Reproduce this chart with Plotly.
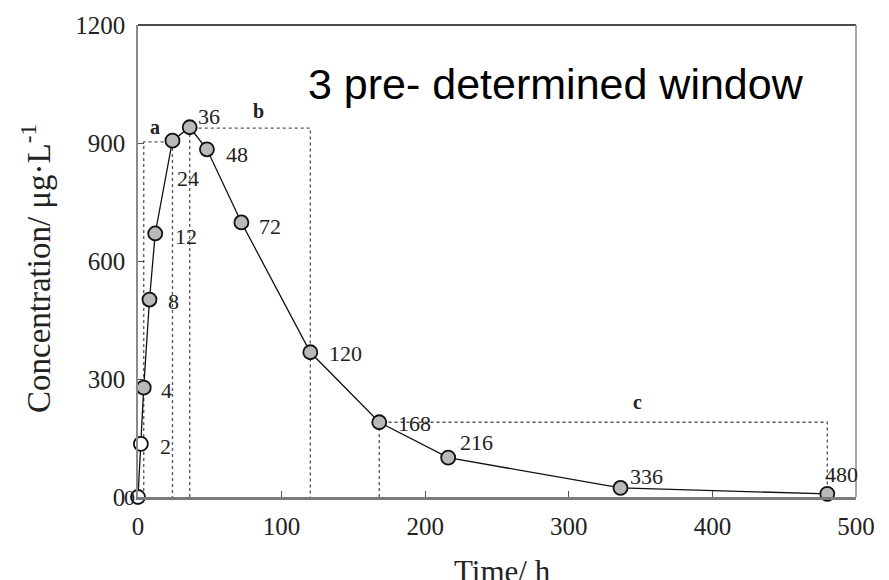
import plotly.graph_objects as go

# ---- data ----
time_h = [0, 2, 4, 8, 12, 24, 36, 48, 72, 120, 168, 216, 336, 480]
conc = [0, 135, 278, 502, 670, 906, 940, 884, 698, 368, 190, 100, 23, 8]
point_labels = ["0", "2", "4", "8", "12", "24", "36", "48", "72", "120", "168", "216", "336", "480"]
open_points = [True, True] + [False] * 12

window_names = ["a", "b", "c"]
window_start = [4, 36, 168]
window_end = [24, 120, 480]
window_top = [903, 938, 190]
window_label_x = [12, 84, 348]
window_label_y = [940, 982, 242]

x_ticks = [0, 100, 200, 300, 400, 500]
y_ticks = [0, 300, 600, 900, 1200]

# label offsets in pixels (style)
label_dx = [-9, 25, 23, 24, 31, 16, 19, 30, 29, 35, 35, 28, 26, 14]
label_dy = [0, -3, -3, -2, -3, -38, 11, -5, -4, -1, -1, 15, 11, 19]

SERIF = "Liberation Serif, Times New Roman, serif"

fig = go.Figure()

# windows (dotted rectangles open at the bottom)
for s, e, top in zip(window_start, window_end, window_top):
    fig.add_trace(go.Scatter(
        x=[s, s, e, e], y=[0, top, top, 0], mode="lines",
        line=dict(color="#555555", width=1.3, dash="dot"),
        hoverinfo="skip", showlegend=False))

# main curve
fig.add_trace(go.Scatter(
    x=time_h, y=conc, mode="lines+markers",
    line=dict(color="#111111", width=1.3),
    marker=dict(size=14,
                color=["#ffffff" if o else "#b9b9b9" for o in open_points],
                line=dict(color="#111111", width=1.8)),
    cliponaxis=False, showlegend=False))

annotations = []
for t, c, lab, dx, dy in zip(time_h, conc, point_labels, label_dx, label_dy):
    annotations.append(dict(x=t, y=c, text=lab, showarrow=False,
                            xshift=dx, yshift=dy,
                            font=dict(family=SERIF, size=22, color="#222222")))
for n, lx, ly in zip(window_names, window_label_x, window_label_y):
    annotations.append(dict(x=lx, y=ly, text="<b>" + n + "</b>", showarrow=False,
                            font=dict(family=SERIF, size=20, color="#222222")))

annotations.append(dict(x=117, y=1050, xanchor="left", yanchor="middle",
                        text="3 pre- determined window", showarrow=False,
                        font=dict(family="Arial, Liberation Sans, sans-serif", size=43, color="#000000")))
annotations.append(dict(xref="paper", yref="paper", x=0, y=0.5, xshift=-102, yshift=-8,
                        xanchor="center", yanchor="middle",
                        text="Concentration/ μg·L<sup>-1</sup>", textangle=-90, showarrow=False,
                        font=dict(family=SERIF, size=33, color="#222222")))
annotations.append(dict(xref="paper", yref="paper", x=0.5, y=0, xshift=5, yshift=-55,
                        xanchor="center", yanchor="top", text="Time/ h", showarrow=False,
                        font=dict(family=SERIF, size=31, color="#222222")))

fig.update_layout(
    width=889, height=580,
    margin=dict(l=138, r=33, t=17, b=83),
    plot_bgcolor="white", paper_bgcolor="white",
    annotations=annotations,
    shapes=[
        dict(type="line", xref="paper", yref="paper", x0=0, x1=1, y0=1, y1=1,
             line=dict(color="#111111", width=1.6)),
        dict(type="line", xref="paper", yref="paper", x0=1, x1=1, y0=0, y1=1,
             line=dict(color="#888888", width=1.5)),
    ],
)
fig.update_xaxes(range=[0, 500], tickvals=x_ticks, showgrid=False, zeroline=False,
                 showline=True, linecolor="#7a7a7a", linewidth=2.5,
                 ticks="inside", ticklen=6, tickcolor="#555555",
                 ticklabelstandoff=5,
                 tickfont=dict(family=SERIF, size=25, color="#222222"))
fig.update_yaxes(range=[0, 1200], tickvals=y_ticks, showgrid=False, zeroline=False,
                 showline=True, linecolor="#8a8a8a", linewidth=1.5,
                 ticks="inside", ticklen=6, tickcolor="#555555",
                 ticklabelstandoff=6,
                 tickfont=dict(family=SERIF, size=25, color="#222222"))

fig.write_html("out.html")
